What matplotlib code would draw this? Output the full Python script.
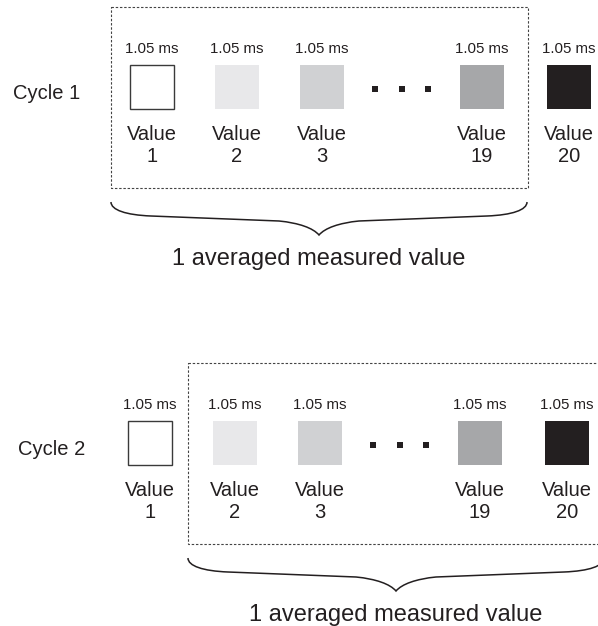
import matplotlib.pyplot as plt
from matplotlib.patches import Rectangle, PathPatch
from matplotlib.path import Path

plt.rcParams['font.family'] = ['Liberation Sans', 'DejaVu Sans']

# data
cycles = ['Cycle 1', 'Cycle 2']
value_ids = ['1', '2', '3', '19', '20']
duration = '1.05 ms'
summary = '1 averaged measured value'

# styles
shades = ['white', '#e8e8ea', '#d0d1d3', '#a6a7a9', '#231f20']
ink = '#231f20'

# layout (pixels)
sq_left = [130, 215, 300, 460, 547]
sq_w = 44
dots_x = [375, 402, 428]
cyc_dx = [0, -2]
cyc_dy = [0, 356]
label_x = [47, 52]
box_l = [111, 188]
box_r = [528, 610]

fig = plt.figure(figsize=(5.98, 6.26), dpi=100)
ax = fig.add_axes([0, 0, 1, 1])
ax.set_xlim(0, 598)
ax.set_ylim(626, 0)
ax.axis('off')


def brace(x0, y0, w):
    h = w / 2
    verts = [(x0, y0), (x0, y0 + 8), (x0 + 15, y0 + 13), (x0 + 40, y0 + 14),
             (x0 + h - 40, y0 + 19),
             (x0 + h - 20, y0 + 21), (x0 + h - 6, y0 + 26), (x0 + h, y0 + 33),
             (x0 + h + 6, y0 + 26), (x0 + h + 20, y0 + 21), (x0 + h + 40, y0 + 19),
             (x0 + w - 40, y0 + 14),
             (x0 + w - 15, y0 + 13), (x0 + w, y0 + 8), (x0 + w, y0)]
    codes = [Path.MOVETO, Path.CURVE4, Path.CURVE4, Path.CURVE4,
             Path.LINETO,
             Path.CURVE4, Path.CURVE4, Path.CURVE4,
             Path.CURVE4, Path.CURVE4, Path.CURVE4,
             Path.LINETO,
             Path.CURVE4, Path.CURVE4, Path.CURVE4]
    ax.add_patch(PathPatch(Path(verts, codes), fill=False, ec=ink, lw=1.1))


for c, name in enumerate(cycles):
    dx, dy = cyc_dx[c], cyc_dy[c]
    ax.text(label_x[c], 99 + dy, name, ha='center', va='baseline',
            fontsize=14.5, color=ink)
    for i, vid in enumerate(value_ids):
        x = sq_left[i] + dx
        ec = '#3a3a3a' if i == 0 else shades[i]
        ax.add_patch(Rectangle((x, 65 + dy), sq_w, 44, fc=shades[i], ec=ec,
                               lw=1.0 if i == 0 else 0))
        cx = x + sq_w / 2
        ax.text(cx, 53 + dy, duration, ha='center', va='baseline',
                fontsize=10.8, color=ink)
        ax.text(cx, 140 + dy, 'Value', ha='center', va='baseline',
                fontsize=14.5, color=ink)
        ax.text(cx, 162 + dy, vid, ha='center', va='baseline',
                fontsize=14.5, color=ink)
    ax.plot([d + dx for d in dots_x], [89 + dy] * 3, 's', color=ink,
            markersize=4.3, markeredgewidth=0)
    # dotted frame around the averaged values
    ax.add_patch(Rectangle((box_l[c], 7 + dy), box_r[c] - box_l[c], 181,
                           fill=False, ec='#444444', lw=0.8,
                           ls=(0, (2.2, 1.6))))
    bw = 416
    brace(box_l[c], 202 + dy, bw)
    ax.text(box_l[c] + bw / 2, 265 + dy, summary, ha='center', va='baseline',
            fontsize=17, color=ink)

fig.savefig('out.png', dpi=100)
